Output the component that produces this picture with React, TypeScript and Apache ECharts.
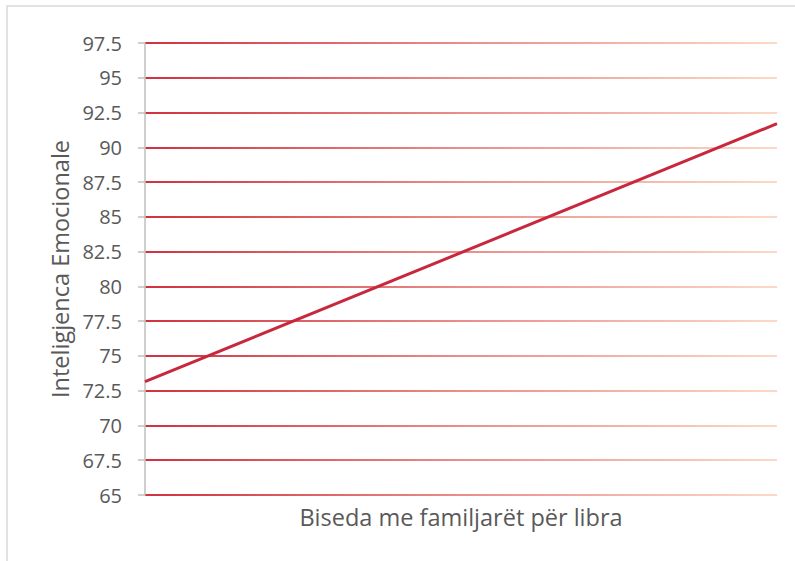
import React, { useEffect, useRef } from "react";
import * as echarts from "echarts";

const xPositions = [0, 1];
const emotionalIntelligence = [73.15, 91.7];
const yMin = 65;
const yMax = 97.5;
const yInterval = 2.5;
const xAxisTitle = "Biseda me familjarët për libra";
const yAxisTitle = "Inteligjenca Emocionale";

export default function App() {
  const ref = useRef<HTMLDivElement>(null);
  useEffect(() => {
    if (!ref.current) return;
    const chart = echarts.init(ref.current, null, { renderer: "svg" });
    const font = "'Open Sans', sans-serif";
    const gridLeft = 145;
    const gridRight = 18;
    const gridGradient = new echarts.graphic.LinearGradient(
      gridLeft, 0, 795 - gridRight, 0,
      [
        { offset: 0, color: "#d0313f" },
        { offset: 0.5, color: "#e98e8a" },
        { offset: 1, color: "#fcd9c6" },
      ],
      true
    );
    chart.setOption({
      animation: false,
      backgroundColor: "#ffffff",
      grid: { left: gridLeft, right: gridRight, top: 43, bottom: 66, containLabel: false },
      graphic: [
        {
          type: "rect",
          shape: { x: 7, y: 6, width: 820, height: 600 },
          style: { fill: "none", stroke: "#d9d9d9", lineWidth: 1.5 },
          silent: true,
          z: -1,
        },
      ],
      xAxis: {
        type: "value",
        min: 0,
        max: 1,
        name: xAxisTitle,
        nameLocation: "middle",
        nameGap: 10,
        nameTextStyle: { fontFamily: font, fontSize: 23.5, color: "#595959", verticalAlign: "top" },
        axisLine: { show: false },
        axisTick: { show: false },
        axisLabel: { show: false },
        splitLine: { show: false },
      },
      yAxis: {
        type: "value",
        min: yMin,
        max: yMax,
        interval: yInterval,
        name: yAxisTitle,
        nameLocation: "middle",
        nameGap: 72,
        nameTextStyle: { fontFamily: font, fontSize: 23.5, color: "#595959" },
        axisLine: { show: true, lineStyle: { color: "#bfbfbf", width: 1.5 } },
        axisTick: { show: true, length: 7, lineStyle: { color: "#bfbfbf", width: 1.5 } },
        axisLabel: {
          margin: 23,
          fontFamily: font,
          fontSize: 20,
          color: "#595959",
          formatter: (v: number) => String(v),
        },
        splitLine: { show: true, lineStyle: { color: gridGradient, width: 2 } },
      },
      series: [
        {
          type: "line",
          data: xPositions.map((x, i) => [x, emotionalIntelligence[i]]),
          showSymbol: false,
          symbol: "none",
          lineStyle: { color: "#c8283d", width: 3 },
          z: 5,
        },
      ],
    });
    return () => chart.dispose();
  }, []);
  return (
    <div
      ref={ref}
      style={{ position: "absolute", left: 0, top: 0, width: 795, height: 561 }}
    />
  );
}
